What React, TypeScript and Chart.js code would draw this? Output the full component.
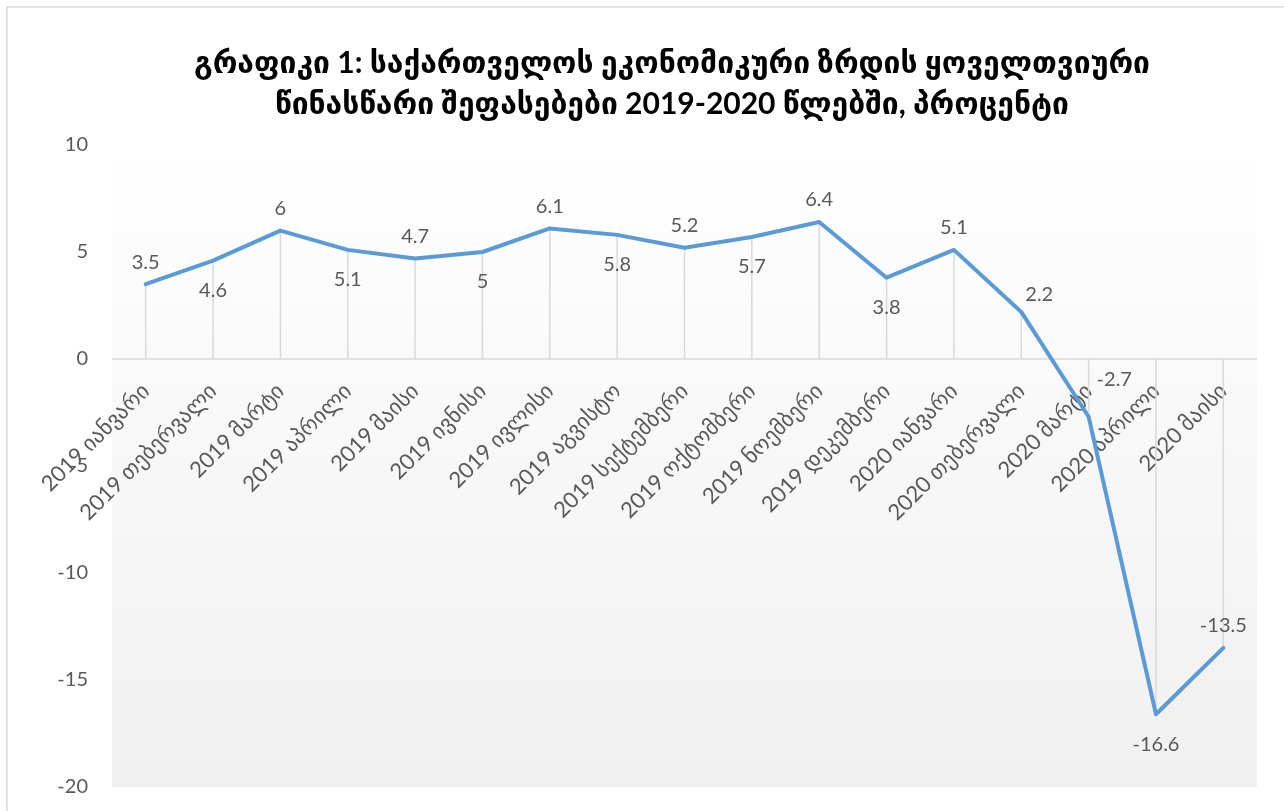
import React, { useEffect, useRef } from "react";
import { Chart, registerables } from "chart.js";

Chart.register(...registerables);

const categories: string[] = [
  "2019 იანვარი",
  "2019 თებერვალი",
  "2019 მარტი",
  "2019 აპრილი",
  "2019 მაისი",
  "2019 ივნისი",
  "2019 ივლისი",
  "2019 აგვისტო",
  "2019 სექტემბერი",
  "2019 ოქტომბერი",
  "2019 ნოემბერი",
  "2019 დეკემბერი",
  "2020 იანვარი",
  "2020 თებერვალი",
  "2020 მარტი",
  "2020 აპრილი",
  "2020 მაისი",
];

const growth: number[] = [3.5, 4.6, 6, 5.1, 4.7, 5, 6.1, 5.8, 5.2, 5.7, 6.4, 3.8, 5.1, 2.2, -2.7, -16.6, -13.5];

const labelPlacement: string[] = [
  "above", "below", "above", "below", "above", "below", "above", "below", "above",
  "below", "above", "below", "above", "aboveRight", "right", "below", "above",
];

const titleLines: string[] = [
  "გრაფიკი 1: საქართველოს ეკონომიკური ზრდის ყოველთვიური",
  "წინასწარი შეფასებები 2019-2020 წლებში, პროცენტი",
];

const yMin = -20;
const yMax = 10;
const yStep = 5;

const FONT = "Lato, 'DejaVu Sans', sans-serif";
const TEXT = "#595959";

export default function App() {
  const ref = useRef<HTMLCanvasElement | null>(null);

  useEffect(() => {
    const canvas = ref.current;
    if (!canvas) return;

    const decor = {
      id: "decor",
      beforeDraw(chart: any) {
        const { ctx, chartArea } = chart;
        ctx.save();
        ctx.fillStyle = "#ffffff";
        ctx.fillRect(0, 0, chart.width, chart.height);
        const g = ctx.createLinearGradient(0, chartArea.top, 0, chartArea.bottom);
        g.addColorStop(0, "#ffffff");
        g.addColorStop(1, "#f0f0f0");
        ctx.fillStyle = g;
        ctx.fillRect(chartArea.left, chartArea.top, chartArea.right - chartArea.left, chartArea.bottom - chartArea.top);
        // outer border
        ctx.strokeStyle = "#d9d9d9";
        ctx.lineWidth = 1.5;
        ctx.beginPath();
        ctx.moveTo(7, chart.height + 5);
        ctx.lineTo(7, 7);
        ctx.lineTo(chart.width + 5, 7);
        ctx.stroke();
        ctx.restore();
      },
      beforeDatasetsDraw(chart: any) {
        const { ctx, chartArea, scales } = chart;
        const y0 = scales.y.getPixelForValue(0);
        ctx.save();
        ctx.strokeStyle = "#d9d9d9";
        ctx.lineWidth = 1.5;
        const meta = chart.getDatasetMeta(0);
        meta.data.forEach((pt: any) => {
          ctx.beginPath();
          ctx.moveTo(pt.x, y0);
          ctx.lineTo(pt.x, pt.y);
          ctx.stroke();
        });
        ctx.beginPath();
        ctx.moveTo(chartArea.left, y0);
        ctx.lineTo(chartArea.right, y0);
        ctx.stroke();
        ctx.restore();
      },
      afterDatasetsDraw(chart: any) {
        const { ctx } = chart;
        const meta = chart.getDatasetMeta(0);
        ctx.save();
        ctx.font = `20px ${FONT}`;
        ctx.fillStyle = TEXT;
        ctx.textBaseline = "middle";
        meta.data.forEach((pt: any, i: number) => {
          const v = growth[i];
          const p = labelPlacement[i];
          let x = pt.x;
          let y = pt.y;
          ctx.textAlign = "center";
          if (p === "above") y -= 22;
          else if (p === "below") y += 30;
          else if (p === "aboveRight") {
            x += 18;
            y -= 17;
          } else {
            ctx.textAlign = "left";
            x += 8;
            y -= 37;
          }
          ctx.fillText(String(v), x, y);
        });
        ctx.restore();
      },
      afterDraw(chart: any) {
        const { ctx } = chart;
        ctx.save();
        ctx.fillStyle = "#000000";
        ctx.textAlign = "center";
        ctx.textBaseline = "alphabetic";
        ctx.font = `bold 30px ${FONT}`;
        ctx.fillText(titleLines[0], 672, 73);
        ctx.fillText(titleLines[1], 672, 114);
        ctx.restore();
      },
    };

    const chart = new Chart(canvas, {
      type: "line",
      data: {
        labels: categories,
        datasets: [
          {
            data: growth,
            borderColor: "#5b9bd5",
            borderWidth: 4,
            pointRadius: 0,
            tension: 0,
            fill: false,
            borderJoinStyle: "round",
            borderCapStyle: "round",
          },
        ],
      },
      options: {
        animation: false,
        responsive: false,
        maintainAspectRatio: false,
        layout: { padding: { left: 8, right: 27, top: 145, bottom: 24 } },
        plugins: { legend: { display: false }, title: { display: false }, tooltip: { enabled: false } },
        scales: {
          x: {
            type: "category",
            offset: true,
            position: { y: 0 } as any,
            grid: { display: false },
            border: { display: false },
            ticks: {
              autoSkip: false,
              minRotation: 45,
              maxRotation: 45,
              padding: 11,
              color: TEXT,
              font: { family: FONT, size: 22 },
            },
          },
          y: {
            min: yMin,
            max: yMax,
            grid: { display: false, drawTicks: true, tickLength: 24 },
            border: { display: false },
            afterFit: (s: any) => {
              s.width = 104;
            },
            ticks: {
              stepSize: yStep,
              padding: 0,
              color: TEXT,
              font: { family: FONT, size: 20 },
            },
          },
        },
      },
      plugins: [decor],
    });

    return () => chart.destroy();
  }, []);

  return (
    <div style={{ position: "fixed", left: 0, top: 0, width: 1284, height: 811 }}>
      <canvas ref={ref} width={1284} height={811} style={{ width: 1284, height: 811 }} />
    </div>
  );
}
